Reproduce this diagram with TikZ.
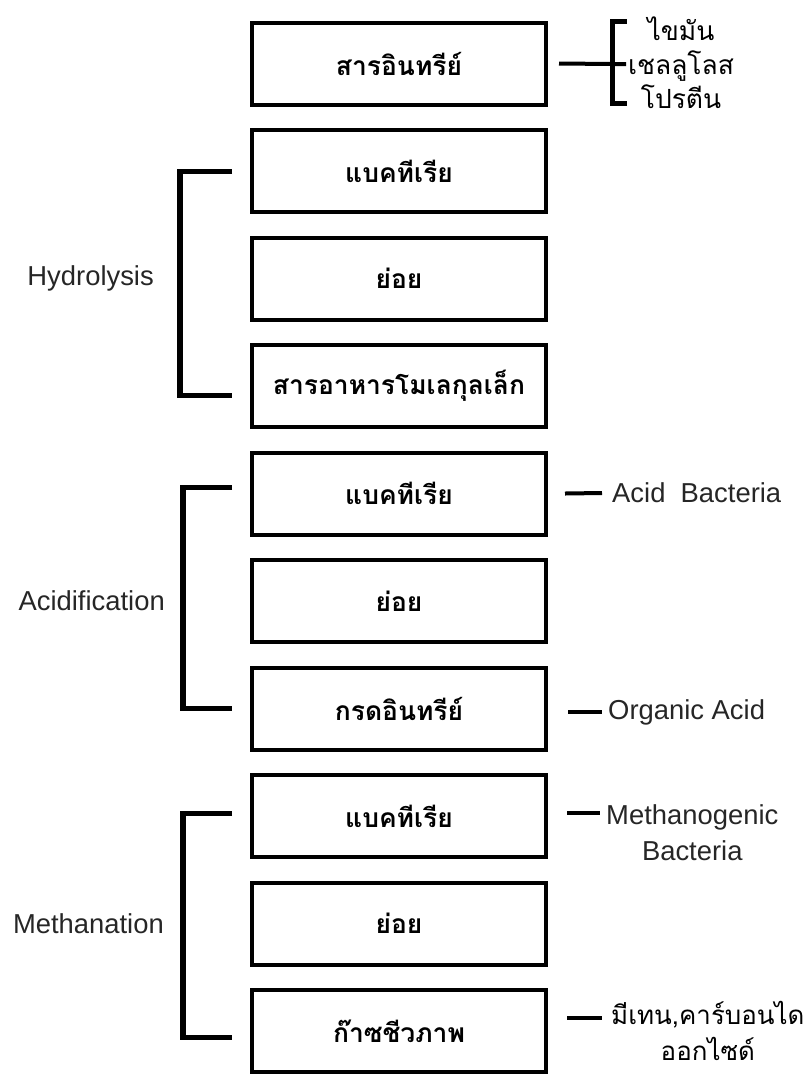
\documentclass[tikz,border=0pt]{standalone}
\usepackage{fontspec}
\usepackage{tikz}
\usetikzlibrary{positioning}
\newfontfamily\thaifont[Script=Thai]{Loma}
\newfontfamily\engfont{Liberation Sans}

\begin{document}
\begin{tikzpicture}[
    x=1bp, y=-1bp,
    node distance=21.5bp,
    box/.style={rectangle, draw, line width=4bp, minimum width=294bp, minimum height=82bp, align=center, font=\thaifont\bfseries\fontsize{26.5}{30}\selectfont},
    phase/.style={anchor=east, inner sep=2bp, text=black!85, font=\engfont\fontsize{27.5}{32}\selectfont},
    note/.style={anchor=west, inner sep=2bp, align=center, text=black!85, font=\engfont\fontsize{27.5}{36}\selectfont},
    thainote/.style={inner sep=2bp, align=center, font=\thaifont\fontsize{26.5}{34}\selectfont},
    brk/.style={line width=5bp},
    bar/.style={line width=4bp}
]
    \useasboundingbox (0,0) rectangle (810,1074);

    \node[box] (organic) at (399,63.5) {สารอินทรีย์};
    \node[box, below=of organic] (bact1) {แบคทีเรีย};
    \node[box, below=of bact1] (digest1) {ย่อย};
    \node[box, below=of digest1] (smallfood) {สารอาหารโมเลกุลเล็ก};
    \node[box, below=of smallfood] (bact2) {แบคทีเรีย};
    \node[box, below=of bact2] (digest2) {ย่อย};
    \node[box, below=of digest2] (orgacid) {กรดอินทรีย์};
    \node[box, below=of orgacid] (bact3) {แบคทีเรีย};
    \node[box, below=of bact3] (digest3) {ย่อย};
    \node[box, below=of digest3] (biogas) {ก๊าซชีวภาพ};

    \node[phase] (hydro) at ([xshift=-94bp]digest1.west) {Hydrolysis};
    \node[phase] (acidif) at ([xshift=-83bp]digest2.west) {Acidification};
    \node[phase] (methan) at ([xshift=-84bp]digest3.west) {Methanation};

    \draw[brk] ([xshift=-18bp]bact1.west) -- ++(-52,0) |- ([xshift=-18bp,yshift=-9bp]smallfood.west);
    \draw[brk] ([xshift=-18bp,yshift=6bp]bact2.west) -- ++(-49,0) |- ([xshift=-18bp]orgacid.west);
    \draw[brk] ([xshift=-18bp,yshift=3bp]bact3.west) -- ++(-49,0) |- ([xshift=-18bp,yshift=-6bp]biogas.west);

    \node[thainote] (parts) at (681,63) {ไขมัน\\เชลลูโลส\\โปรตีน};
    \coordinate (fork) at (612,64);
    \draw[bar] ([xshift=11bp]organic.east) -- (fork) -- ++(14,0);
    \draw[brk] ([xshift=15bp,yshift=-39bp]fork) -| ([yshift=43bp]fork) -- ++(15,0);

    \node[note] (acidbac) at (610,493) {Acid\ \ Bacteria};
    \node[note] (acid) at (606,712) {Organic Acid};
    \node[note] (methbac) at (604,833) {Methanogenic\\Bacteria};
    \node[thainote, anchor=west, font=\thaifont\fontsize{26}{36}\selectfont] (gas) at (609,1031) {มีเทน,คาร์บอนได\\ออกไซด์};

    \draw[bar] ([xshift=17bp]bact2.east) -- ([xshift=-8bp]acidbac.west);
    \draw[bar] ([xshift=20bp]orgacid.east |- acid.west) -- ([xshift=-4bp]acid.west);
    \draw[bar] ([xshift=19bp,yshift=3bp]bact3.east) -- ++(33,0);
    \draw[bar] ([xshift=19bp,yshift=13bp]biogas.east) -- ++(35,0);
\end{tikzpicture}
\end{document}
